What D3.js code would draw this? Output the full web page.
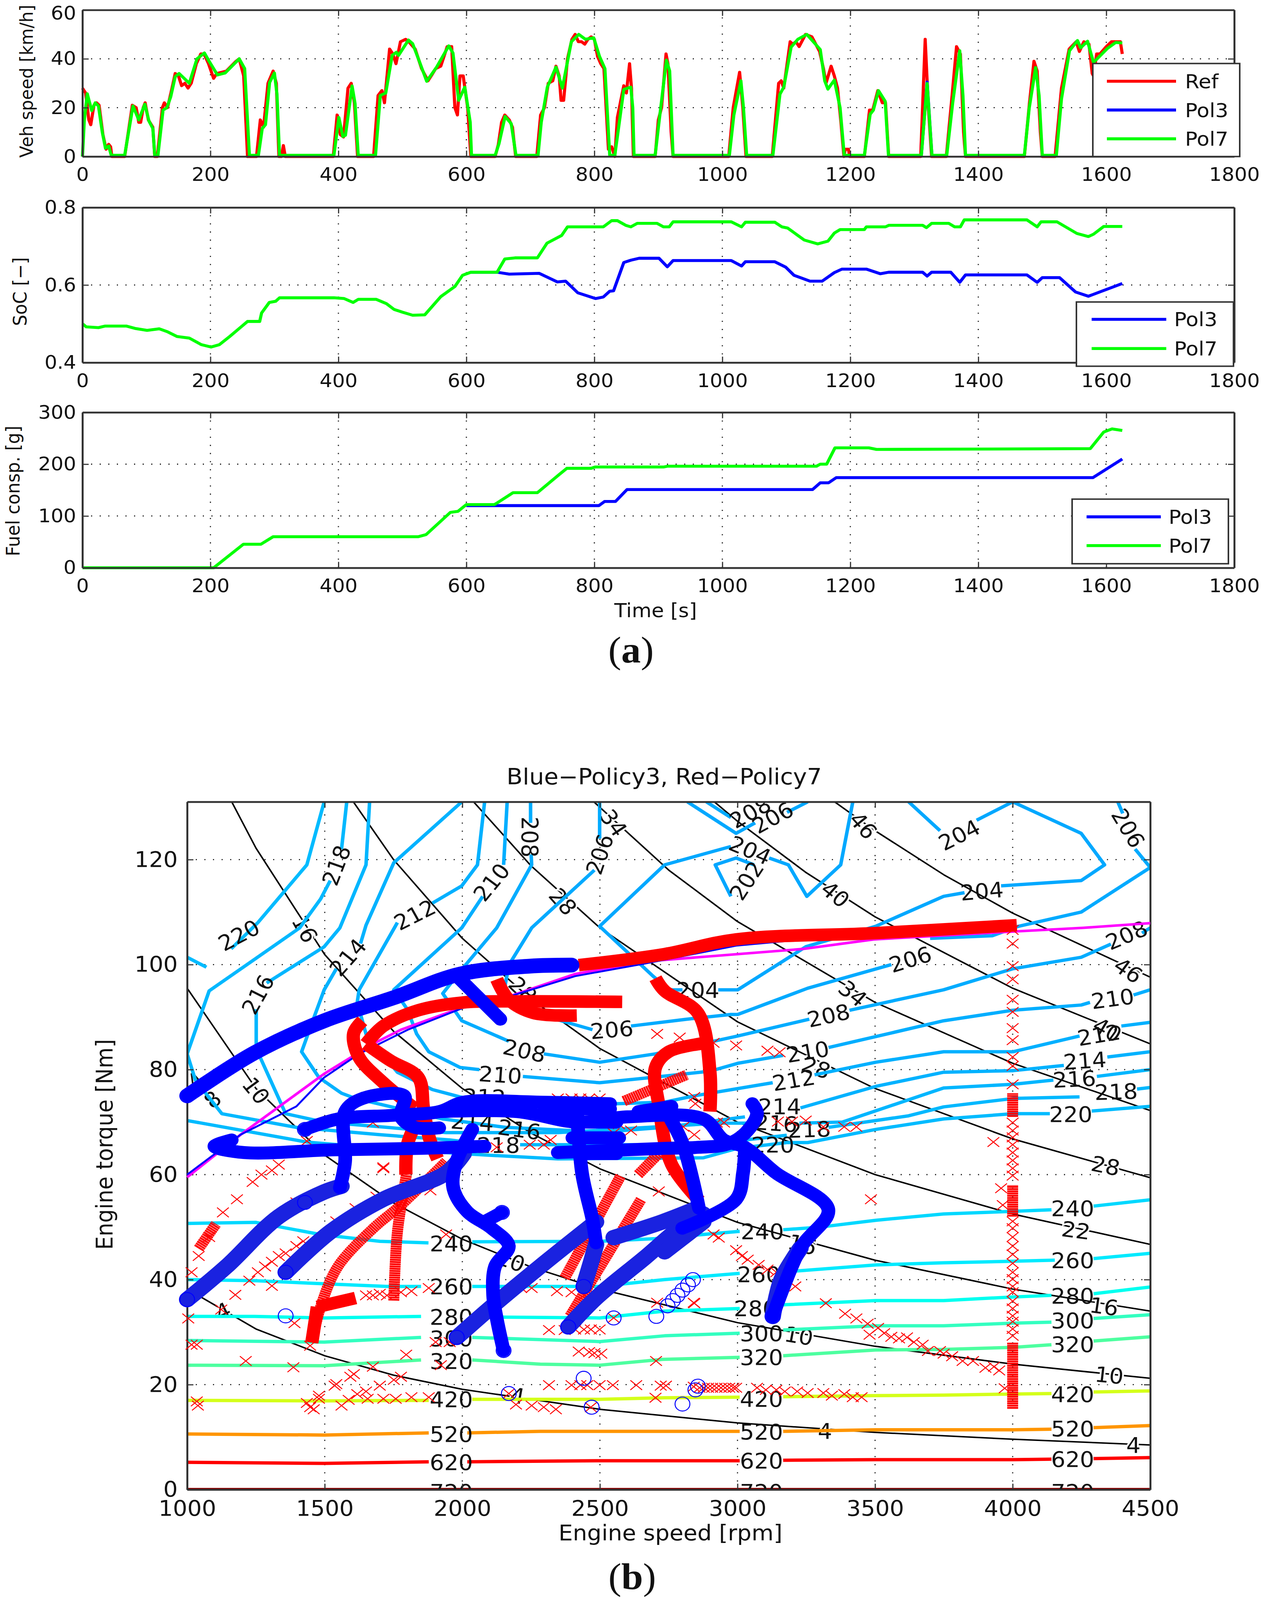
<!DOCTYPE html>
<html><head><meta charset="utf-8">
<script src="https://d3js.org/d3.v7.min.js"></script>
<style>
html,body{margin:0;padding:0;background:#fff;height:100%;overflow:hidden}
svg{display:block;width:100vw;height:100vh}
svg text{font-family:"DejaVu Sans",sans-serif;fill:#111}
</style></head><body><svg id="c" viewBox="0 0 3230 4334" preserveAspectRatio="none"></svg>
<script>
// ---------- panel (a) ----------
const timeTicks=[0,200,400,600,800,1000,1200,1400,1600,1800];
const speedRef=[[0,28],[5,26],[10,15],[13,13],[18,21],[22,22],[26,21],[32,9],[37,3],[41,5],[44,4],[46,0],[66,0],[78,21],[84,20],[88,14],[91,14],[95,20],[98,22],[103,15],[110,12],[113,0],[117,0],[125,20],[128,22],[133,20],[140,28],[145,34],[150,33],[155,29],[160,30],[165,28],[170,30],[178,38],[185,42],[190,42],[197,38],[205,32],[210,34],[225,35],[240,39],[245,40],[252,33],[258,0],[272,0],[278,15],[283,12],[290,30],[298,35],[303,30],[307,0],[311,0],[314,4.5],[317,0],[392,0],[398,17],[403,9],[408,8],[415,28],[420,30],[425,22],[430,0],[455,0],[462,25],[468,27],[472,22],[480,44],[485,42],[490,38],[497,47],[505,48],[510,47],[520,44],[530,36],[540,31],[545,33],[552,36],[560,37],[570,45],[577,45],[582,20],[586,17],[590,33],[595,33],[602,20],[607,0],[645,0],[650,5],[655,14],[660,17],[667,15],[672,12],[677,0],[710,0],[716,17],[722,20],[728,30],[735,31],[740,37],[745,33],[748,23],[752,23],[758,40],[765,48],[770,50],[775,47],[780,47],[785,46],[790,48],[795,49],[800,48],[805,41],[810,38],[815,36],[822,3],[827,4],[832,0],[836,16],[846,29],[850,26],[855,38],[858,28],[861,0],[895,0],[900,15],[905,20],[912,42],[915,38],[920,10],[923,0],[1010,0],[1017,20],[1027,34.5],[1032,20],[1037,0],[1078,0],[1088,30],[1092,31],[1096,28],[1106,47],[1110,46],[1115,47],[1120,45],[1130,50],[1140,49],[1152,43],[1158,36],[1162,30],[1170,37],[1175,33],[1180,28],[1185,15],[1190,0],[1192,3],[1197,3],[1199,0],[1222,0],[1230,19],[1235,19],[1243,27],[1250,22],[1255,22],[1260,0],[1310,0],[1317,48],[1322,20],[1327,0],[1350,0],[1358,22],[1366,45],[1372,42],[1377,10],[1380,0],[1472,0],[1480,22],[1487,39],[1492,35],[1497,10],[1500,0],[1520,0],[1530,28],[1542,44],[1553,47],[1558,43],[1565,47],[1573,46],[1578,34],[1580,33],[1585,42],[1590,42],[1600,45],[1608,47],[1618,47],[1622,47],[1625,42]];
const speedPol7=[[0,0],[3,15],[7.5,25.7],[14.5,18.8],[20,22],[25,20.7],[31,10],[36,3.4],[41,4.3],[45,0.5],[66,0.5],[79,20.7],[88,15],[97.5,21.4],[104,14.5],[110,11.5],[113,0.5],[118,0.5],[126,19],[132,20],[138,24.5],[145,32.7],[151,34],[167,30],[179,40],[190.6,42.4],[198,39],[211,33.4],[223,34.2],[245,40],[253.5,36],[261,0.5],[275,0.5],[281,11.5],[286,13],[292.5,30.3],[300,34.2],[304,25.5],[308,0.5],[393,0.5],[400.7,16],[407,8.2],[411,8.7],[421.4,28.9],[426,21.7],[431,0.5],[458,0.5],[465.5,25],[474,26],[484,41.4],[490.6,42.7],[494,41.4],[509.5,47.7],[516,46.2],[525,40],[538,30.8],[553.5,36.6],[572.4,45.3],[579,42.4],[588,23],[597.5,28.4],[606,14],[608,0.5],[645,0.5],[651,5.3],[660.5,16.4],[670,13.5],[677.5,0.5],[712,0.5],[717,14],[726.5,28.4],[740,36.6],[750,28],[764,47],[775.6,50],[786,48],[799,48.6],[808,41],[816.5,36],[824,0.5],[832,0.5],[846,27.5],[857,28.4],[860,20],[862,0.5],[895,0.5],[901,14],[912.6,39.5],[917.7,35],[923,0.5],[1011,0.5],[1018,17],[1029,31],[1033,20],[1038,0.5],[1079,0.5],[1090,25.5],[1096,28.4],[1107.5,44.8],[1118,48],[1132,50],[1153,43.8],[1160,31],[1165,27.6],[1175,31.3],[1184,20],[1190.5,0.5],[1222,0.5],[1231,17.3],[1236,19],[1244,27],[1254.5,22.6],[1259.6,0.5],[1311,0.5],[1320,29.9],[1327.5,0.5],[1350.7,0.5],[1360,22],[1371,43.3],[1376,25],[1380,0.5],[1472,0.5],[1479.5,19.7],[1489.6,36.4],[1495,25],[1500,0.5],[1522,0.5],[1530,23.6],[1542.5,43.3],[1555,47.5],[1560,44.5],[1570.7,47.2],[1580,38.5],[1602,44.3],[1614.7,46.7],[1625,46.5]];
const speedPol3=[[1311,0.5],[1320,30.5],[1327.5,0.5]];
const socPol7=[[0,.5],[6,.492],[25,.49],[35,.494],[69,.494],[82,.488],[101,.483],[120,.487],[132,.48],[148,.467],[167,.463],[186,.446],[201,.44],[214,.446],[230,.467],[248,.492],[258,.506],[277,.506],[280,.528],[292,.555],[302,.558],[308,.567],[393,.567],[409,.565],[423,.555],[431,.563],[459,.563],[475,.552],[487,.537],[500,.53],[516,.522],[535,.523],[560,.57],[582,.596],[594,.625],[607,.633],[648,.633],[660,.667],[676,.67],[711,.67],[726,.708],[749,.728],[758,.75],[814,.75],[827,.766],[836,.766],[849,.754],[857,.75],[867,.759],[898,.759],[908,.75],[917,.75],[923,.763],[1014,.763],[1030,.75],[1036,.762],[1082,.762],[1093,.75],[1102,.747],[1128,.716],[1149,.706],[1165,.713],[1175,.734],[1184,.743],[1222,.743],[1225,.75],[1255,.75],[1260,.754],[1313,.754],[1319,.748],[1327,.759],[1354,.759],[1363,.75],[1372,.75],[1378,.768],[1476,.768],[1492,.75],[1498,.763],[1523,.763],[1554,.733],[1572,.725],[1580,.731],[1596,.751],[1625,.751]];
const socPol3=[[607,.633],[648,.633],[667,.628],[714,.63],[742,.608],[755,.61],[774,.58],[802,.565],[814,.569],[824,.584],[830,.585],[846,.658],[857,.664],[870,.669],[901,.669],[914,.647],[923,.663],[1014,.663],[1030,.649],[1036,.66],[1082,.66],[1099,.646],[1112,.625],[1137,.61],[1156,.61],[1175,.632],[1187,.641],[1225,.641],[1247,.629],[1260,.633],[1313,.633],[1320,.623],[1327,.633],[1357,.633],[1371,.607],[1380,.626],[1476,.626],[1492,.607],[1500,.619],[1527,.619],[1552,.582],[1572,.571],[1625,.604]];
const fuelPol7=[[0,0],[205,0],[251.6,45.5],[279,45.5],[298,60],[525,60],[537,64],[575,107],[587,109],[600,122],[644,122],[673,145],[711,145],[745,180],[757,192],[795,192],[801,194.5],[908,194.5],[914,196],[1147,196],[1153,200],[1163,200],[1176,231.5],[1229,231.5],[1241,228.5],[1367,229],[1575,230],[1596,262],[1609,268],[1625,265]];
const fuelPol3=[[600,120],[807,120],[816,128],[833,128],[851,151],[1141,151],[1153,164],[1166,164],[1178,174],[1579,174],[1625,210]];
const speedTicks=[0,20,40,60], socTicks=[.4,.6,.8], fuelTicks=[0,100,200,300];

// ---------- panel (b) ----------
const rpmTicks=[1000,1500,2000,2500,3000,3500,4000,4500], torqueTicks=[0,20,40,60,80,100,120];
const torqueLimit=[[1000,59.5],[1194,67.6],[1498,79.2],[1675,84.9],[1777,87.6],[1998,91.8],[2157,93.7],[2410,98.2],[2664,100.6],[3242,103],[3495,104.8],[4002,106.3],[4256,107],[4500,107.9]];
const torqueLimitBlue=[[1000,60],[1194,67.6],[1397,73],[1498,78.5],[1625,83],[1802,87.6],[2005,91.8],[2157,93.7],[2410,97.8],[2664,100.2],[2995,103.6],[3242,104.8]];
// iso-power curves, kW
const power4=[[1000,38.2],[1250,30.6],[1500,25.5],[1750,21.8],[2000,19.1],[2500,15.3],[3000,12.7],[3500,10.9],[4000,9.6],[4500,8.5]];
const power10=[[1000,95.5],[1250,76.4],[1500,63.7],[1750,54.6],[2000,47.7],[2250,42.4],[2500,38.2],[3000,31.8],[3500,27.3],[4000,23.9],[4500,21.2]];
const power16=[[1162,131],[1250,122.2],[1500,101.9],[1750,87.3],[2000,76.4],[2250,67.9],[2500,61.1],[3000,50.9],[3500,43.7],[4000,38.2],[4500,34]];
const power22=[[1604,131],[1750,120],[2000,105],[2250,93.4],[2500,84],[3000,70],[3500,60],[4000,52.5],[4500,46.7]];
const power28=[[2041,131],[2250,118.8],[2500,107],[3000,89.1],[3500,76.4],[4000,66.8],[4500,59.4]];
const power34=[[2478,131],[2750,118],[3000,108.2],[3500,92.8],[4000,81.2],[4500,72.2]];
const power40=[[2916,131],[3000,127.3],[3250,117.5],[3500,109.1],[4000,95.5],[4500,84.9]];
const power46=[[3353,131],[3500,125.5],[3750,117.1],[4000,109.8],[4500,97.6]];
// black labels: text, rpm, torque, rotation
const powerLabels=[["16",1428,106.8,62],["16",4332,34.9,8],["16",3236,46.7,15],["10",1251,76,52],["10",4351,21.8,6],["10",3223,29.3,10],["10",2176,43.6,20],["8",1092,74.3,-40],["4",1030,78,-40],["4",1130,34,-25],["4",3318,11.2,0],["4",4439,8.5,0],["4",2201,17.9,10],["22",4230,49.4,8],["28",4338,61.7,12],["28",3286,80.4,20],["28",2366,112,50],["28",2220,95.2,45],["34",2550,127,55],["34",3419,94.5,40],["40",3356,113.4,40],["40",4344,87.6,30],["46",3457,126.5,50],["46",4420,98.9,35]];
// specific fuel consumption contours, g/kWh (null = gap for a label)
const bsfc202=[[2976,113],[2919,119],[2995,120.3],[3060,119]];
const bsfc204a=[[3419,131],[3375,119],[3252,113],[3185,119],[3115,120.3],null,[2976,122.5],[2735,119],[2499,107.3],[2689,98],[2750,95.2],[2800,95.2],null,[2930,95.2],[3001,95.2],[3248,103.4],[3502,107.3],[3749,113],[3825,113.7],null,[3958,115],[4249,116],[4334,119],[4249,125],[4000,131],[3869,127.5],null,[3736,125.5],[3622,131]];
const bsfc206a=[[2818,131],[2995,125],[3064,127],null,[3180,129],[3255,131]];
const bsfc206b=[[2499,131],[2499,124],null,[2480,118],[2252,107],[2170,100],[2144,93],[2346,89.5],[2473,87.6],null,[2613,88.3],[2815,89.6],[2976,90.5],[3001,90.5],[3255,95.5],[3559,100],null,[3700,105],[3926,105.5],[4021,107.3],[4249,110],[4500,118.5]];
const bsfc206c=[[4382,131],[4400,128.8],null,[4445,122],[4500,118.5]];
const bsfc208a=[[2887,131],[2976,128]];
const bsfc208b=[[2248,131],[2248,127],null,[2250,121],[2252,119],[2125,107],[1992,98.7],[1929,94.5],[1998,89.3],[2169,85.4],null,[2296,83],[2499,81.4],[2702,83],[2913,85.4],[3001,86.4],[3261,89.6],null,[3407,91.3],[3749,95.2],[4000,99.2],[4249,101.4],[4357,103.9],null,[4470,106],[4500,107]];
const bsfc210=[[2163,131],[2150,119],null,[2074,113],[1998,107],[1751,95.2],[1800,91.5],[1834,86.8],[1878,83.4],[1992,80.4],[2062,80],null,[2220,78.7],[2499,77.5],[2689,78.5],[2900,79.7],[3001,81.2],[3166,82.7],null,[3331,84.2],[3749,89.3],[4000,91.3],[4249,92.3],[4281,92.8],null,[4439,94.2],[4500,95.2]];
const bsfc212=[[2081,131],[2055,119],[1998,115],[1891,111.7],null,[1764,108],[1625,95.2],[1618,92.8],[1650,86.8],[1764,79.5],[1891,76.2],[1992,74.8],[2157,73.5],[2562,73.5],[2735,73.8],[2843,75],[3128,77.5],null,[3280,79],[3502,81.4],[3749,83.4],[4002,83.4],[4243,86.4],null,[4395,88.3],[4500,89]];
const bsfc214=[[1998,131],[1751,119.4],[1650,107.5],[1630,104],null,[1542,99.2],[1498,95.2],[1460,89.8],[1416,83.4],[1479,78.5],[1561,75.5],[1612,74.5],[1929,70.6],[2157,69],[2511,68.1],[2735,69],[3027,71],null,[3229,72.7],[3502,76.8],[3749,79.5],[4002,79.8],[4186,80.8],null,[4344,82.4],[4500,83.4]];
const bsfc216=[[1663,131],[1650,119],[1555,107],[1498,103.4],[1289,96.5],null,[1251,91.5],[1251,84],[1358,71.6],[1498,70],[1726,69],[1941,68],[2347,68],[2938,69.8],[3040,69.8],null,[3225,69.8],[3381,70],[3749,76.5],[4002,77.2],[4148,78],null,[4306,78.7],[4500,80]];
const bsfc218=[[1580,131],[1561,122],null,[1520,116],[1485,112.5],[1409,107],[1245,101],[1080,95],[1000,83],[1030,78],[1126,71.6],[1396,69],[1700,67.6],[1954,66.6],[2050,66],null,[2210,65.7],[2499,65.7],[2876,65.7],[3179,67.5],null,[3331,69],[3622,71.2],[3749,72.9],[4002,74.5],[4243,74.8],null,[4452,76.3],[4500,76.6]];
const bsfc220=[[1498,131],[1435,119],[1257,108],[1160,103],null,[1000,101.4],[1070,99.5]];
const bsfc220b=[[1000,70.3],[1434,66.2],[1777,64.7],[2094,63.7],[2347,63],[2876,63.2],[3000,65],[3179,66.1],[3255,66.1],[3502,68.6],[3749,70.6],[4002,71.6],[4135,71.6],null,[4287,72.1],[4500,73]];
const bsfc240=[[1000,50.7],[1250,50.9],[1484,48.6],[1700,47.3],[1877,47],null,[2036,47.2],[2499,47.3],[2700,47.8],[3008,49.2],null,[3166,49.5],[3300,50],[3502,51.3],[3749,52.5],[4002,53],[4141,53.3],null,[4294,54],[4500,55.2]];
const bsfc260=[[1000,40],[1245,39.8],[1498,39.2],[1726,38.7],[1850,38.7],null,[2036,38.7],[2499,38.7],[2735,40],[3008,41.2],null,[3160,41.5],[3229,41.7],[3502,42.8],[3749,43.2],[4002,43.5],[4153,43.7],null,[4294,44],[4500,45]];
const bsfc280=[[1000,33],[1245,33],[1498,32.7],[1850,33],null,[2036,32.9],[2499,32.7],[2735,34],[3008,34.5],null,[3166,35.2],[3502,36],[3749,36],[4002,36.7],[4141,37],null,[4294,37.3],[4500,38.6]];
const bsfc300=[[1000,28.4],[1498,28.1],[1850,29],null,[2036,29],[2499,28.2],[2735,29.3],[3008,29.8],null,[3166,30.4],[3502,31.2],[3749,31.2],[4002,31.7],[4141,31.9],null,[4294,32.6],[4500,33.3]];
const bsfc320=[[1000,23.7],[1498,23.6],[1850,24.7],null,[2036,24.7],[2283,23.9],[2499,23.7],[2727,24.8],[3008,25.2],null,[3166,25.5],[3502,26.6],[3749,26.7],[4002,27.1],[4141,27.6],null,[4294,28.3],[4500,29.1]];
const bsfc420=[[1000,17],[1498,16.9],[1878,17],null,[2036,17.2],[2499,17.2],[2735,17.5],[3008,17.6],null,[3166,17.7],[3502,17.9],[3749,18],[4002,18.2],[4141,18.3],null,[4294,18.6],[4500,18.8]];
const bsfc520=[[1000,10.6],[1498,10.4],[1878,10.8],null,[2018,10.8],[2283,11.1],[2499,11.1],[3008,11.1],null,[3166,11.1],[3502,11.4],[3749,11.4],[4002,11.4],[4141,11.5],null,[4294,11.8],[4500,12.2]];
const bsfc620=[[1000,5.2],[1498,5],[1878,5.3],null,[2018,5.3],[2499,5.5],[3008,5.5],null,[3166,5.6],[3502,5.7],[3749,5.7],[4002,5.7],[4141,5.8],null,[4294,5.9],[4500,6.1]];
const bsfc720=[[1000,.15],[4500,.15]];
const bsfcLabels=[["220",1188,105.6,-29],["218",1542,118.9,-70],["216",1257,94.3,-62],["214",1584,101.4,-50],["212",1827,109.5,-28],["210",2106,115.7,-52],["208",2245,124.3,90],["206",2499,121,-72],["208",2226,83.6,13],["206",2543,87.6,-5],["210",2138,79,4],["214",2036,70,4],["218",2131,65.6,0],["216",2207,68.6,8],["212",2080,74.8,2],["208",3046,129,-30],["206",3128,128,-30],["204",3046,121.8,24],["202",3033,116,-58],["204",3806,124.7,-28],["204",3888,114,-5],["206",4420,126,60],["204",2856,95.2,0],["206",3628,101,-18],["208",3331,90.3,-13],["208",4414,105.6,-24],["210",3255,83.4,-10],["210",4363,93.5,-8],["212",3204,78,-10],["212",4313,86.6,-10],["214",3153,73,0],["214",4262,81.7,-4],["216",3140,69.8,4],["216",4224,78.2,-3],["218",3261,68.6,-2],["218",4376,75.8,-2],["220",3128,65.7,0],["220",4211,71.5,0],
["240",1960,46.9,0],["260",1960,38.7,0],["280",1960,32.9,0],["300",1960,28.8,0],["320",1960,24.5,0],["420",1960,17.2,0],["520",1960,10.6,0],["620",1960,5.2,0],["720",1960,-.4,0],
["240",3090,49.2,0],["260",3077,41,0],["280",3065,34.5,0],["300",3087,29.8,0],["320",3087,25.2,0],["420",3087,17.3,0],["520",3087,11,0],["620",3087,5.5,0],["720",3087,-.4,0],
["240",4218,53.6,0],["260",4218,43.7,0],["280",4218,36.9,0],["300",4218,32.2,0],["320",4218,27.7,0],["420",4218,18.2,0],["520",4218,11.6,0],["620",4218,5.8,0],["720",4218,-.4,0]];
// operating points
const redThick=[
 [[2423,99.9],[2735,102],[2995,104.8],[3502,106],[4015,107.5]],
 [[2581,92.9],[2182,93],[2005,92.8],[1840,91.3],[1713,88.3],[1650,84.9]],
 [[1637,89.3],[1605,86.9],[1624,82.4],[1713,77.5],[1827,72.6]],
 [[1650,84.9],[1739,81.7],[1840,78.5],[1859,72.6],[1880,67],[1910,63]],
 [[1859,72.6],[1802,66],[1795,60]],
 [[2125,97.2],[2169,93.3],[2258,90.8],[2416,90.3]],
 [[2702,97.4],[2735,95],[2856,90.8],[2900,79.5],[2900,72]],
 [[2876,85],[2750,83.4],[2702,80.4],[2715,73],[2760,62],[2862,55]],
 [[1473,34.8],[1612,36.5]],
 [[1453,28],[1473,34.8]]
];
const redBands=[
 [[1751,36],[1764,49],[1797,60]],
 [[1453,28],[1485,34.8],[1548,42.5],[1675,49.7],[1777,54.2],[1941,62.5]],
 [[1042,45.9],[1105,50.6]],
 [[2372,40.3],[2575,59.7]],
 [[2391,33],[2650,55.3]],
 [[2587,74],[2815,79]],
 [[2639,60],[2727,64.7]],
 [[4000,15.4],[4000,28]],
 [[4000,52],[4000,58]],
 [[4000,71],[4000,75.5]]
];
const blueThick=[
 [[1000,75],[1245,83.2],[1498,89.3],[1751,93.7],[1992,98.2],[2245,99.7],[2397,99.9]],
 [[1992,97.2],[2138,89.6]],
 [[1162,66.6],[1099,65.4],[1206,64.2],[1523,64.7],[1853,65],[2081,65.4]],
 [[2036,68.6],[1979,62.5],[1967,57.5],[2017,53],[2106,49.8],[2169,46.4],[2119,42.5],[2112,37],[2125,32.6],[2150,26.5]],
 [[1555,57.5],[1574,62.5],[1574,72],[1637,74.5],[1789,75],[1777,71],[1827,69],[1916,68.9]],
 [[1428,68.6],[1549,70.6],[1751,71.3],[1916,72],[2005,73.8],[2283,73.8],[2537,73.5]],
 [[1916,72],[2200,72],[2416,70],[2600,71],[2876,70.6],[2950,66.6],[3027,65.2],[3140,60.3],[3330,53.4],[3229,46],[3128,33]],
 [[2347,64.2],[2735,65],[2860,65.2],[2963,65.8],[3030,68],[3071,71.6],[3054,73.5]],
 [[3027,65.2],[3020,60.3],[2995,55.3],[2799,49.8]],
 [[2400,67],[2570,67]],[[2420,64],[2560,64]],[[2400,70],[2560,70]],
 [[2300,72.5],[2537,72.5]],[[2640,72],[2760,73]],
 [[2416,73],[2435,60.3],[2473,51.4],[2486,47]],
 [[2735,72.5],[2800,66],[2860,53.6]],
 [[2144,52.8],[2080,51]]
];
const blueBands=[
 [[1000,36.2],[1143,42.5],[1333,52],[1498,56.7],[1561,57.8]],
 [[1358,41.4],[1523,49.2],[1713,55.3],[1941,60.3],[2005,64]],
 [[1980,29],[2106,34.8],[2283,42.5],[2486,51]],
 [[2385,31],[2486,36.5],[2664,44.2],[2790,49.8],[2876,52.5]],
 [[2550,48],[2727,51],[2854,53.6]],
 [[2441,38.7],[2466,43],[2486,46.7]],
 [[3128,33],[3160,40],[3229,46]],
 [[2735,45.3],[2876,51]]
];
const blueCircles=[[1358,33.1],[1428,54.7],[2169,18.3],[2441,21.2],[2470,15.7],[2550,32.7],[2705,33],[2800,16.3],[2847,19],[2856,19.7],[2746,35],[2765,36],[2782,37],[2800,38],[2820,39],[2838,40],[1428,68.6],[1000,36.2],[1358,41.4],[1980,29],[2385,31],[2441,38.7],[2150,26.5],[3128,33],[2144,52.8]];
const redCrosses=[[1016,41.4],[1004,32.6],[1016,27.6],[1035,27.6],[1035,16.8],[1039,16],[1175,37.1],[1226,39.8],[1308,38.8],[1124,34.3],[1213,24.5],[1386,23.3],[1390,31.7],[1447,27.4],[1257,41.4],[1283,42.5],[1308,43.4],[1333,44.5],[1358,45],[1397,46.4],[1422,47.3],[1397,54.7],[1612,53.6],[1688,55.8],[1713,61.4],[1542,51.1],[1884,57],[1941,48.6],[1042,44.5],[1080,48.1],[1130,52.8],[1181,55.3],[1238,58.6],[1270,60],[1308,60.8],[1333,61.9],[1650,37],[1675,37],[1700,37.3],[1726,37],[1777,37.6],[1815,37.8],[1878,38.4],[2214,38.4],[2252,38.4],[2344,37.8],[2397,37.6],[2442,37],[2315,30.4],[2372,30.4],[2410,30.5],[2442,30.5],[2467,30.5],[2499,30.5],[2423,26.3],[2461,26.2],[2480,26],[2505,25.9],[2704,24.5],[1796,25.7],[1675,23.4],[1903,28.1],[1954,28.1],[1922,23.7],[2714,56.8],[2841,35.6],[2708,35.6],[2550,32.7],
[1435,16.5],[1447,15.7],[1460,15.3],[1479,17.9],[1479,17.3],[1536,19.8],[1542,20.1],[1593,21.5],[1606,22],[1561,16],[1587,17.1],[1618,18.2],[1650,18.7],[1656,17.3],[1700,19.8],[1713,17.3],[1751,20.9],[1777,21.5],[1758,17.3],[1815,17.6],[1878,17.6],[2169,18.3],[2195,16.2],[2252,16],[2296,15.7],[2340,15.3],[2467,15.7],[2315,19.9],[2397,19.9],[2429,19.9],[2454,19.9],[2499,19.9],[2547,19.9],[2632,19.9],[2721,19.8],[2740,19.8],[2702,17.5],[2841,19.6],
[2913,48.6],[2932,48],[2995,45.6],[3016,44.5],[3037,43.8],[3077,42.8],[3109,41.9],[3141,41.4],[3210,38.7],[3321,35.5],[3391,33.5],[3432,32.6],[3473,31.6],[3480,29.5],[3511,30.8],[3533,29.8],[3559,29.1],[3587,28.8],[3616,29],[3641,28.1],[3673,27.6],[3692,26.4],[3736,26.4],[3749,25.9],[3780,25.4],[3818,24.5],[3856,24.5],[3901,23.2],[3932,23.4],[3951,22.7],[3971,19.3],[3485,55.3],[3958,57.4],[3964,54.2],[2843,35.5],
[2862,19.4],[2878,19.4],[2893,19.4],[2908,19.4],[2924,19.4],[2940,19.4],[2955,19.4],[2970,19.4],[2985,19.4],[2995,19.4],[3071,19.4],[3103,19],[3141,19],[3172,18.7],[3217,18.7],[3255,18.4],[3312,18.4],[3343,17.9],[3388,18.2],[3419,17.6],[3451,17.6],
[2347,74.5],[2397,74.5],[2429,74.5],[2461,74.5],[2499,74.5],[2321,66.6],[2245,65.7],[2296,65.7],[2125,65.2],[2550,67.9],[2613,68.4],[2569,69.6],[2727,68.9],[2803,69.1],[2847,73.5],[2708,86.8],[2790,86.1],[1435,66.4],[1675,69.9],[1713,61.2],[2913,85.1],[2995,84.6],[3109,83.6],[3153,83.3],[2843,74.8],[2843,67.6],[2951,69.9],[2925,69.9],[3147,70.1],[3198,70.1],[3248,70.3],[3312,69.1],[3388,69.1],[3432,69.1],[3930,66.2]];
const crosses4000=[106.6,104,99.7,97.2,93.3,91,87.9,85.6,82.4,80.7,77.2,69.9,68.4,67.1,65.7,64.2,62.7,61.2,59.8,51.1,49.8,48.1,46.4,44.8,43.1,41.4,40.1,38.7,37.6,35.9,34.5,33.1,32,30.6,29.3];

// ---------- drawing ----------
const svg=d3.select("#c");
const FS=51, FSB=58, FRAME="#333";
function frame(g,x,y,xt,yt){
  const [x0,x1]=x.range(),[y0,y1]=y.range();
  const grid=g.append("g").attr("stroke","#222").attr("stroke-width",3).attr("stroke-dasharray","3 19");
  xt.forEach(v=>{ if(v>x.domain()[0]&&v<x.domain()[1]) grid.append("line").attr("x1",x(v)).attr("x2",x(v)).attr("y1",y0).attr("y2",y1); });
  yt.forEach(v=>{ if(v>y.domain()[0]&&v<y.domain()[1]) grid.append("line").attr("x1",x0).attr("x2",x1).attr("y1",y(v)).attr("y2",y(v)); });
}
function axes(g,x,y,xt,yt,fmt,xPad,yPad,tl,fs){
  const [x0,x1]=x.range(),[y0,y1]=y.range();
  const style=a=>{a.selectAll("path").attr("stroke",FRAME).attr("stroke-width",5).attr("fill","none");a.selectAll("line").attr("stroke",FRAME).attr("stroke-width",3);a.selectAll("text").attr("font-size",fs).attr("fill","#111").attr("font-family","DejaVu Sans");};
  g.append("g").attr("transform",`translate(0,${y0})`).call(d3.axisBottom(x).tickValues(xt).tickSize(-tl).tickPadding(xPad).tickFormat(d3.format("d")).tickSizeOuter(0)).call(style);
  g.append("g").attr("transform",`translate(0,${y1})`).call(d3.axisTop(x).tickValues(xt).tickSize(-tl).tickFormat("").tickSizeOuter(0)).call(style);
  const left=g.append("g").attr("transform",`translate(${x0},0)`).call(d3.axisLeft(y).tickValues(yt).tickSize(-tl).tickPadding(yPad).tickFormat(fmt).tickSizeOuter(0)).call(style);
  left.selectAll(".tick text").filter(d=>y(d)<40).attr("dy","0.5em");
  g.append("g").attr("transform",`translate(${x1},0)`).call(d3.axisRight(y).tickValues(yt).tickSize(-tl).tickFormat("").tickSizeOuter(0)).call(style);
}
const timeX=d3.scaleLinear().domain([0,1800]).range([211,3159]);
function timePanel(top,bot,dom,ticks,fmt,series,legend){
  const y=d3.scaleLinear().domain(dom).range([bot,top]);
  const g=svg.append("g");
  frame(g,timeX,y,timeTicks,ticks);
  const line=d3.line().x(d=>timeX(d[0])).y(d=>y(d[1]));
  series.forEach(s=>g.append("path").attr("d",line(s.data)).attr("fill","none").attr("stroke",s.color).attr("stroke-width",8).attr("stroke-linejoin","round"));
  axes(g,timeX,y,timeTicks,ticks,fmt,30,16,16,FS);
  g.append("rect").attr("x",legend.x).attr("y",legend.y).attr("width",legend.w).attr("height",legend.h).attr("fill","#fff").attr("stroke",FRAME).attr("stroke-width",4);
  legend.items.forEach((it,i)=>{
    g.append("line").attr("x1",legend.lx0).attr("x2",legend.lx1).attr("y1",legend.ys[i]).attr("y2",legend.ys[i]).attr("stroke",it[1]).attr("stroke-width",8);
    g.append("text").attr("x",legend.tx).attr("y",legend.ys[i]+19).attr("font-size",53).text(it[0]);
  });
}
const RED="#ff0000",BLUE="#0000ff",GREEN="#00ff00";
timePanel(27,424,[0,60],speedTicks,d3.format("d"),[{data:speedRef,color:RED},{data:speedPol3,color:BLUE},{data:speedPol7,color:GREEN}],
 {x:2797,y:172,w:376,h:252,lx0:2833,lx1:3010,tx:3033,ys:[220,298,376],items:[["Ref",RED],["Pol3",BLUE],["Pol7",GREEN]]});
timePanel(562,982,[.4,.8],socTicks,d3.format(".1f"),[{data:socPol3,color:BLUE},{data:socPol7,color:GREEN}],
 {x:2755,y:818,w:402,h:174,lx0:2794,lx1:2985,tx:3005,ys:[865,944],items:[["Pol3",BLUE],["Pol7",GREEN]]});
timePanel(1117,1538,[0,300],fuelTicks,d3.format("d"),[{data:fuelPol3,color:BLUE},{data:fuelPol7,color:GREEN}],
 {x:2744,y:1352,w:400,h:175,lx0:2781,lx1:2971,tx:2991,ys:[1400,1478],items:[["Pol3",BLUE],["Pol7",GREEN]]});
function vText(x,y,t,fs){svg.append("text").attr("transform",`translate(${x},${y}) rotate(-90)`).attr("text-anchor","middle").attr("font-size",fs).text(t);}
vText(84,220,"Veh speed [km/h]",47);
vText(68,790,"SoC [−]",48);
vText(50,1330,"Fuel consp. [g]",48);
svg.append("text").attr("x",1678).attr("y",1672).attr("text-anchor","middle").attr("font-size",52).text("Time [s]");
function caption(cx,base,l){const t=svg.append("text").attr("x",cx).attr("y",base).attr("text-anchor","middle").style("font-family","'Liberation Serif',serif").attr("font-size",100);t.append("tspan").text("(");t.append("tspan").attr("font-weight","bold").text(l);t.append("tspan").text(")");}
caption(1615,1795,"a");
caption(1618,4304,"b");

// bottom chart
const X=d3.scaleLinear().domain([1000,4500]).range([479,2944]);
const Y=d3.scaleLinear().domain([0,131]).range([4035,2172]);
const G=svg.append("g");
const defs=svg.append("defs");
defs.append("clipPath").attr("id","plot").append("rect").attr("x",479).attr("y",2172).attr("width",2465).attr("height",1863);
frame(G,X,Y,rpmTicks,torqueTicks);
const L=d3.line().defined(d=>d!==null).x(d=>X(d[0])).y(d=>Y(d[1]));
const clipG=G.append("g").attr("clip-path","url(#plot)");
[power4,power10,power16,power22,power28,power34,power40,power46].forEach(p=>clipG.append("path").attr("d",L(p)).attr("fill","none").attr("stroke","#000").attr("stroke-width",4).attr("stroke-linejoin","round"));
powerLabels.forEach(l=>clipG.append("text").attr("transform",`translate(${X(l[1])},${Y(l[2])}) rotate(${l[3]})`).attr("text-anchor","middle").attr("dy","0.36em").attr("font-size",FSB).attr("paint-order","stroke").attr("stroke","#fff").attr("stroke-width",9).text(l[0]));
const contours=[[bsfc202,"#00a6ff"],[bsfc204a,"#00a8ff"],[bsfc206a,"#00a8ff"],[bsfc206b,"#00aaff"],[bsfc206c,"#00aaff"],[bsfc208a,"#00aaff"],[bsfc208b,"#00acff"],[bsfc210,"#00aeff"],[bsfc212,"#00b0ff"],[bsfc214,"#00b2ff"],[bsfc216,"#00b6ff"],[bsfc218,"#00b8ff"],[bsfc220,"#00bbff"],[bsfc220b,"#00bbff"],[bsfc240,"#00d8ff"],[bsfc260,"#00eaff"],[bsfc280,"#00fff0"],[bsfc300,"#33ffc0"],[bsfc320,"#4dffa0"],[bsfc420,"#d4ff1a"],[bsfc520,"#ff9500"],[bsfc620,"#ff0000"],[bsfc720,"#8b0000"]];
contours.forEach(c=>clipG.append("path").attr("d",L(c[0])).attr("fill","none").attr("stroke",c[1]).attr("stroke-width",c[0]===bsfc720?5:9).attr("stroke-linejoin","round"));
bsfcLabels.forEach(l=>clipG.append("text").attr("transform",`translate(${X(l[1])},${Y(l[2])}) rotate(${l[3]})`).attr("text-anchor","middle").attr("dy","0.36em").attr("font-size",FSB).text(l[0]));
axes(G,X,Y,rpmTicks,torqueTicks,d3.format("d"),29,24,16,FSB);
const P=svg.append("g");
const C=d3.line().curve(d3.curveCatmullRom.alpha(.5)).x(d=>X(d[0])).y(d=>Y(d[1]));
P.append("path").attr("d",L(torqueLimit)).attr("fill","none").attr("stroke","#ff00ff").attr("stroke-width",7);
P.append("path").attr("d",L(torqueLimitBlue)).attr("fill","none").attr("stroke",BLUE).attr("stroke-width",5);
const cross=P.append("g").attr("stroke",RED).attr("stroke-width",2.5).attr("fill","none");
const drawCross=(r,t)=>cross.append("path").attr("transform",`translate(${X(r)},${Y(t)})`).attr("d","M-15,-13L15,13M-15,13L15,-13");
redCrosses.forEach(d=>drawCross(d[0],d[1]));
crosses4000.forEach(t=>drawCross(4000,t));
redBands.forEach(b=>P.append("path").attr("d",C(b)).attr("fill","none").attr("stroke",RED).attr("stroke-width",28).attr("stroke-dasharray","5 1"));
redThick.forEach(b=>P.append("path").attr("d",C(b)).attr("fill","none").attr("stroke",RED).attr("stroke-width",34).attr("stroke-linejoin","round"));
blueBands.forEach(b=>P.append("path").attr("d",C(b)).attr("fill","none").attr("stroke","#1a22e0").attr("stroke-width",42).attr("stroke-linecap","round"));
blueThick.forEach((b,i)=>P.append("path").attr("d",C(b)).attr("fill","none").attr("stroke",BLUE).attr("stroke-width",i===0?40:35).attr("stroke-linecap","round").attr("stroke-linejoin","round"));
blueCircles.forEach(d=>P.append("circle").attr("cx",X(d[0])).attr("cy",Y(d[1])).attr("r",19).attr("fill","none").attr("stroke",BLUE).attr("stroke-width",2.5));
svg.append("text").attr("x",1700).attr("y",2125).attr("text-anchor","middle").attr("font-size",60).text("Blue−Policy3, Red−Policy7");
svg.append("text").attr("x",1716).attr("y",4172).attr("text-anchor","middle").attr("font-size",FSB).text("Engine speed [rpm]");
vText(288,3100,"Engine torque [Nm]",FSB);
</script></body></html>
